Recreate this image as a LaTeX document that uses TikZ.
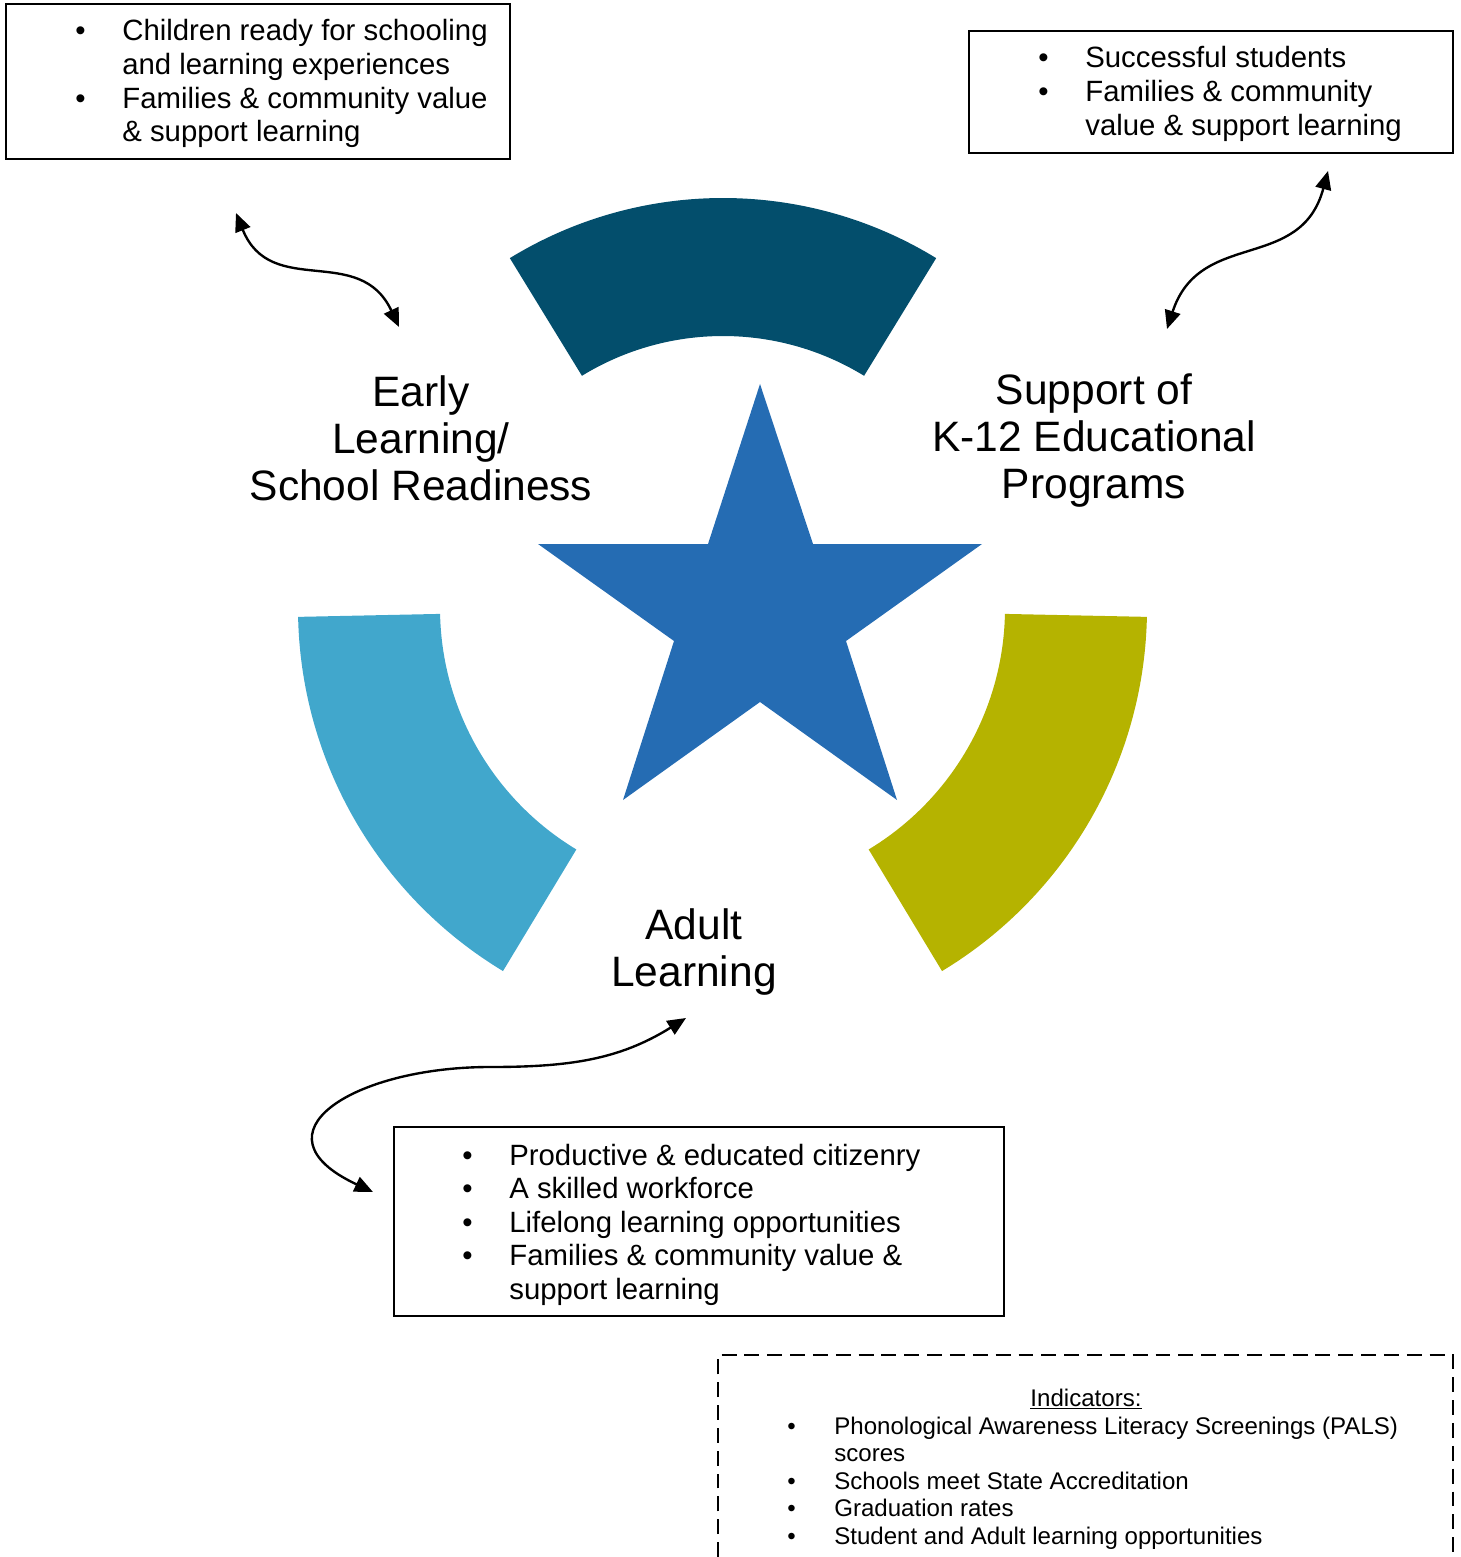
\documentclass[tikz,border=0pt]{standalone}
\usepackage{fontspec}
\setmainfont{Liberation Sans}
\usetikzlibrary{arrows.meta,calc}

\definecolor{arcteal}{RGB}{3,78,108}
\definecolor{arcsky}{RGB}{65,167,204}
\definecolor{arcolive}{RGB}{181,179,0}
\definecolor{starblue}{RGB}{37,108,179}

\newcommand{\bul}{\makebox[0.94cm][l]{•}}

\begin{document}
\begin{tikzpicture}[x=0.02cm,y=-0.02cm,
    twoway/.style={line width=1.35pt, >={Triangle[length=10.5pt,width=9pt]}, <->},
    frame/.style={line width=1pt}]

        \useasboundingbox (0,0) rectangle (1460,1557);

        % ring pieces and star
        \coordinate (ctop)   at (723,606);
        \coordinate (cleft)  at (722,608);
        \coordinate (cright) at (723,608);

        \fill[arcteal] ($(ctop)+(-121.5:408)$) arc[start angle=-121.5, end angle=-58.5, radius=408]
          -- ($(ctop)+(-58.5:270)$) arc[start angle=-58.5, end angle=-121.5, radius=270] -- cycle;
        \fill[arcsky] ($(cleft)+(121.1:424)$) arc[start angle=121.1, end angle=178.8, radius=424]
          -- ($(cleft)+(178.8:282)$) arc[start angle=178.8, end angle=121.1, radius=282] -- cycle;
        \fill[arcolive] ($(cright)+(58.9:424)$) arc[start angle=58.9, end angle=1.2, radius=424]
          -- ($(cright)+(1.2:282)$) arc[start angle=1.2, end angle=58.9, radius=282] -- cycle;

        \fill[starblue] (760,384) -- (813,544) -- (982,544) -- (846,641) -- (897,800)
          -- (760,702) -- (623,800) -- (674,641) -- (538,544) -- (708,544) -- cycle;

        % boxes
        \draw[frame] (6,4) rectangle (510,159);
        \draw[frame] (969,31) rectangle (1453,153);
        \draw[frame] (394,1127) rectangle (1004,1316);
        \draw[frame, dash pattern=on 8.5pt off 4.5pt] (718,1557) |- (1453,1355) -- (1453,1557);

        \begin{scope}[every node/.style={anchor=base, inner sep=0pt,
            font=\fontsize{24.2}{27}\selectfont}]
          \node (early)  at (421,406) {\begin{tabular}[t]{@{}c@{}}Early\\Learning/\\School Readiness\end{tabular}};
          \node (k12)    at (1094,404) {\begin{tabular}[t]{@{}c@{}}Support of\\K-12 Educational\\Programs\end{tabular}};
          \node (adult)  at (694,939) {\begin{tabular}[t]{@{}c@{}}Adult\\Learning\end{tabular}};
        \end{scope}

        \begin{scope}[every node/.style={anchor=base west, inner sep=0pt,
            font=\fontsize{16.7}{19.1}\selectfont}]
          \node (earlylist) at (75,41) {\begin{tabular}[t]{@{}l@{}l@{}}
            \bul & Children ready for schooling\\
                 & and learning experiences\\
            \bul & Families \& community value\\
                 & \& support learning\end{tabular}};
          \node (k12list) at (1038,68) {\begin{tabular}[t]{@{}l@{}l@{}}
            \bul & Successful students\\
            \bul & Families \& community\\
                 & value \& support learning\end{tabular}};
          \node (adultlist) at (462,1165) {\begin{tabular}[t]{@{}l@{}l@{}}
            \bul & Productive \& educated citizenry\\
            \bul & A skilled workforce\\
            \bul & Lifelong learning opportunities\\
            \bul & Families \& community value \&\\
                 & support learning\end{tabular}};
        \end{scope}

        \begin{scope}[every node/.style={inner sep=0pt, font=\fontsize{13.7}{15.6}\selectfont}]
          \node[anchor=base] (indhead) at (1086,1406) {\underline{Indicators:}};
          \node[anchor=base west] (indlist) at (787,1434.5) {\begin{tabular}[t]{@{}l@{}l@{}}
            \bul & Phonological Awareness Literacy Screenings (PALS)\\
                 & scores\\
            \bul & Schools meet State Accreditation\\
            \bul & Graduation rates\\
            \bul & Student and Adult learning opportunities\end{tabular}};
        \end{scope}

        % two-way arrows
        \coordinate (el1)  at (236,213);
        \coordinate (el2)  at (399,327);
        \coordinate (k12a) at (1167,329);
        \coordinate (k12b) at (1328,171);
        \coordinate (ad1)  at (686,1018);
        \coordinate (adm)  at (490,1067);
        \coordinate (ad2)  at (373,1192);

        \begin{scope}[every edge/.style={draw, twoway}]
          \path (el1)  edge[out=-68, in=115, looseness=1.2] (el2);
          \path (k12a) edge[out=72, in=255, looseness=1.2] (k12b);
        \end{scope}
        \draw[twoway] (ad1) to[out=212, in=0] (adm) to[out=180, in=155, looseness=2.05] (ad2);

      \end{tikzpicture}
\end{document}
